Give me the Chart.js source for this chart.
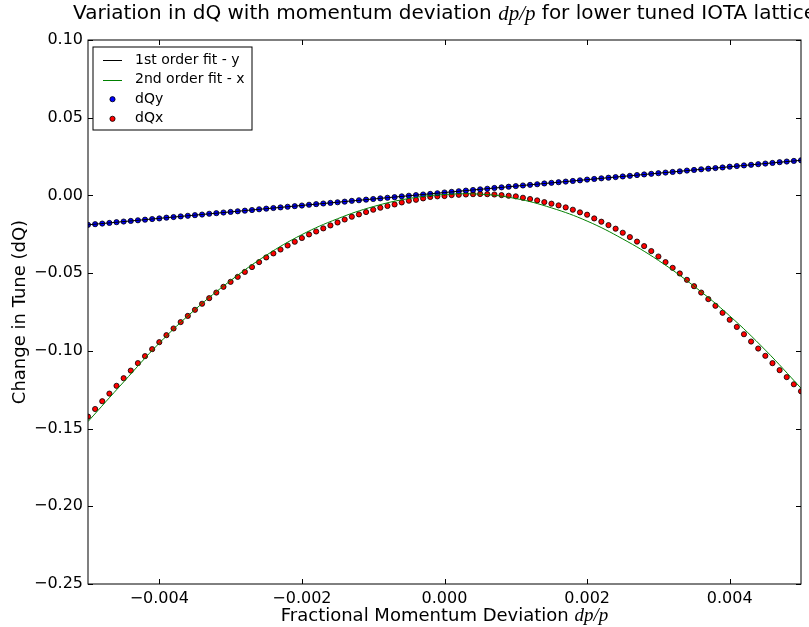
<!DOCTYPE html>
<html>
<head>
<meta charset="utf-8">
<script src="https://cdn.jsdelivr.net/npm/chart.js@4.4.1/dist/chart.umd.min.js"></script>
<style>
  html, body { margin: 0; padding: 0; background: #fff; }
</style>
</head>
<body>
<canvas id="dq" width="809" height="627"></canvas>
<script>
// momentum deviation dp/p of the tracked points
const dpp = [
  -0.0050, -0.0049, -0.0048, -0.0047, -0.0046, -0.0045, -0.0044, -0.0043, -0.0042, -0.0041,
  -0.0040, -0.0039, -0.0038, -0.0037, -0.0036, -0.0035, -0.0034, -0.0033, -0.0032, -0.0031,
  -0.0030, -0.0029, -0.0028, -0.0027, -0.0026, -0.0025, -0.0024, -0.0023, -0.0022, -0.0021,
  -0.0020, -0.0019, -0.0018, -0.0017, -0.0016, -0.0015, -0.0014, -0.0013, -0.0012, -0.0011,
  -0.0010, -0.0009, -0.0008, -0.0007, -0.0006, -0.0005, -0.0004, -0.0003, -0.0002, -0.0001,
   0.0000,  0.0001,  0.0002,  0.0003,  0.0004,  0.0005,  0.0006,  0.0007,  0.0008,  0.0009,
   0.0010,  0.0011,  0.0012,  0.0013,  0.0014,  0.0015,  0.0016,  0.0017,  0.0018,  0.0019,
   0.0020,  0.0021,  0.0022,  0.0023,  0.0024,  0.0025,  0.0026,  0.0027,  0.0028,  0.0029,
   0.0030,  0.0031,  0.0032,  0.0033,  0.0034,  0.0035,  0.0036,  0.0037,  0.0038,  0.0039,
   0.0040,  0.0041,  0.0042,  0.0043,  0.0044,  0.0045,  0.0046,  0.0047,  0.0048,  0.0049,
   0.0050
];

// dQy (blue points)
const dQy = [
  -0.0189, -0.0185, -0.0181, -0.0177, -0.0172, -0.0168, -0.0164, -0.0160, -0.0156, -0.0152,
  -0.0148, -0.0143, -0.0139, -0.0135, -0.0131, -0.0127, -0.0123, -0.0118, -0.0114, -0.0110,
  -0.0106, -0.0102, -0.0098, -0.0094, -0.0089, -0.0085, -0.0081, -0.0077, -0.0073, -0.0069,
  -0.0065, -0.0060, -0.0056, -0.0052, -0.0048, -0.0044, -0.0040, -0.0035, -0.0031, -0.0027,
  -0.0023, -0.0019, -0.0015, -0.0011, -0.0006, -0.0002,  0.0002,  0.0006,  0.0010,  0.0014,
   0.0019,  0.0023,  0.0027,  0.0031,  0.0035,  0.0039,  0.0043,  0.0048,  0.0052,  0.0056,
   0.0060,  0.0064,  0.0068,  0.0072,  0.0077,  0.0081,  0.0085,  0.0089,  0.0093,  0.0097,
   0.0102,  0.0106,  0.0110,  0.0114,  0.0118,  0.0122,  0.0126,  0.0131,  0.0135,  0.0139,
   0.0143,  0.0147,  0.0151,  0.0155,  0.0160,  0.0164,  0.0168,  0.0172,  0.0176,  0.0180,
   0.0185,  0.0189,  0.0193,  0.0197,  0.0201,  0.0205,  0.0209,  0.0214,  0.0218,  0.0222,
   0.0226
];

// dQx (red points)
const dQx = [
  -0.1423, -0.1374, -0.1324, -0.1275, -0.1225, -0.1176, -0.1127, -0.1079, -0.1034, -0.0989,
  -0.0944, -0.0899, -0.0856, -0.0815, -0.0775, -0.0736, -0.0697, -0.0661, -0.0625, -0.0588,
  -0.0556, -0.0524, -0.0492, -0.0461, -0.0429, -0.0399, -0.0373, -0.0348, -0.0322, -0.0298,
  -0.0274, -0.0251, -0.0232, -0.0212, -0.0193, -0.0174, -0.0155, -0.0137, -0.0122, -0.0107,
  -0.0092, -0.0079, -0.0068, -0.0058, -0.0045, -0.0034, -0.0028, -0.0019, -0.0010, -0.0006,
  -0.0004,  0.0002,  0.0004,  0.0006,  0.0008,  0.0009,  0.0008,  0.0006,  0.0002, -0.0002,
  -0.0006, -0.0015, -0.0023, -0.0032, -0.0043, -0.0053, -0.0064, -0.0077, -0.0092, -0.0109,
  -0.0124, -0.0148, -0.0169, -0.0191, -0.0214, -0.0240, -0.0268, -0.0297, -0.0326, -0.0358,
  -0.0393, -0.0429, -0.0466, -0.0502, -0.0543, -0.0584, -0.0625, -0.0667, -0.0710, -0.0755,
  -0.0800, -0.0846, -0.0893, -0.0940, -0.0985, -0.1032, -0.1079, -0.1124, -0.1169, -0.1215,
  -0.1260
];

// 1st order fit to dQy (straight line, end points)
const fitYx = [-0.0050, 0.0050];
const fitYy = [-0.0189, 0.0226];

// 2nd order fit to dQx
const fitXx = [
  -0.0050, -0.0045, -0.0040, -0.0035, -0.0030, -0.0025, -0.0020, -0.0015, -0.0010, -0.0005,
   0.0000,  0.0005,  0.0010,  0.0015,  0.0020,  0.0025,  0.0030,  0.0035,  0.0040,  0.0045,
   0.0050
];
const fitXy = [
  -0.1455, -0.1200, -0.0950, -0.0735, -0.0548, -0.0385, -0.0252, -0.0150, -0.0072, -0.0020,
   0.0006,  0.0008, -0.0020, -0.0080, -0.0165, -0.0280, -0.0418, -0.0584, -0.0775, -0.0995,
  -0.1240
];

// axis ticks
const xTicks = [-0.004, -0.002, 0.000, 0.002, 0.004];
const yTicks = [0.10, 0.05, 0.00, -0.05, -0.10, -0.15, -0.20, -0.25];

const legendNames = ['1st order fit - y', '2nd order fit - x', 'dQy', 'dQx'];

function pts(xs, ys) {
  return xs.map((x, i) => ({ x: x, y: ys[i] }));
}

function fmt(v, d) {
  if (Math.abs(v) < 1e-12) v = 0;
  return v.toFixed(d).replace('-', '\u2212');
}

const SANS = '"DejaVu Sans", sans-serif';
const SERIF = '"Liberation Serif", serif';

// draw a line of text made of plain and italic (math) pieces, centred on cx
function mixedText(ctx, parts, cx, cy, size) {
  const sans = size + 'px ' + SANS;
  const math = 'italic ' + (size + 1) + 'px ' + SERIF;
  let total = 0;
  parts.forEach(p => { ctx.font = p[1] ? math : sans; total += ctx.measureText(p[0]).width; });
  let x = cx - total / 2;
  ctx.textBaseline = 'middle';
  ctx.textAlign = 'left';
  parts.forEach(p => {
    ctx.font = p[1] ? math : sans;
    ctx.fillText(p[0], x, cy);
    x += ctx.measureText(p[0]).width;
  });
}

const decor = {
  id: 'decor',
  afterDraw(chart) {
    const ctx = chart.ctx;
    const a = chart.chartArea;
    const sx = chart.scales.x, sy = chart.scales.y;
    ctx.save();
    ctx.strokeStyle = '#000';
    ctx.lineWidth = 1;

    // frame
    ctx.strokeRect(a.left, a.top, a.right - a.left, a.bottom - a.top);

    // inward ticks on all four sides
    ctx.beginPath();
    xTicks.forEach(v => {
      const p = Math.round(sx.getPixelForValue(v)) + 0.5;
      ctx.moveTo(p, a.bottom); ctx.lineTo(p, a.bottom - 5);
      ctx.moveTo(p, a.top); ctx.lineTo(p, a.top + 5);
    });
    yTicks.forEach(v => {
      const p = Math.round(sy.getPixelForValue(v)) + 0.5;
      ctx.moveTo(a.left, p); ctx.lineTo(a.left + 5, p);
      ctx.moveTo(a.right, p); ctx.lineTo(a.right - 5, p);
    });
    ctx.stroke();

    // legend
    const lx = a.left + 5, ly = a.top + 7, lw = 159, lh = 83;
    ctx.fillStyle = '#fff';
    ctx.fillRect(lx, ly, lw, lh);
    ctx.strokeRect(lx, ly, lw, lh);
    ctx.font = '14px ' + SANS;
    ctx.textBaseline = 'middle';
    ctx.textAlign = 'left';
    chart.data.datasets.forEach((ds, i) => {
      const ry = ly + 13 + i * 19.6;
      if (ds.showLine) {
        ctx.strokeStyle = ds.borderColor;
        ctx.lineWidth = 1;
        ctx.beginPath();
        ctx.moveTo(lx + 10, Math.round(ry) + 0.5);
        ctx.lineTo(lx + 29, Math.round(ry) + 0.5);
        ctx.stroke();
      } else {
        ctx.fillStyle = ds.backgroundColor;
        ctx.strokeStyle = '#000';
        ctx.lineWidth = 0.8;
        ctx.beginPath();
        ctx.arc(lx + 19.5, ry, 2.6, 0, Math.PI * 2);
        ctx.fill();
        ctx.stroke();
      }
      ctx.fillStyle = '#000';
      ctx.fillText(legendNames[i], lx + 42, ry);
    });

    // title and axis labels
    ctx.fillStyle = '#000';
    const cx = (a.left + a.right) / 2;
    mixedText(ctx, [['Variation in dQ with momentum deviation ', false], ['dp/p', true],
      [' for lower tuned IOTA lattice', false]], cx, 14, 20);
    mixedText(ctx, [['Fractional Momentum Deviation ', false], ['dp/p', true]], cx, 616, 18);

    ctx.save();
    ctx.translate(20, (a.top + a.bottom) / 2);
    ctx.rotate(-Math.PI / 2);
    ctx.font = '18px ' + SANS;
    ctx.textAlign = 'center';
    ctx.textBaseline = 'middle';
    ctx.fillText('Change in Tune (dQ)', 0, 0);
    ctx.restore();

    ctx.restore();
  }
};

new Chart(document.getElementById('dq').getContext('2d'), {
  type: 'scatter',
  data: {
    datasets: [
      {
        label: legendNames[0],
        data: pts(fitYx, fitYy),
        showLine: true,
        borderColor: '#000000',
        borderWidth: 1,
        pointRadius: 0,
        clip: 0,
        order: 0
      },
      {
        label: legendNames[1],
        data: pts(fitXx, fitXy),
        showLine: true,
        borderColor: '#008000',
        borderWidth: 1,
        pointRadius: 0,
        tension: 0.4,
        clip: 0,
        order: 1
      },
      {
        label: legendNames[2],
        data: pts(dpp, dQy),
        backgroundColor: '#0000ff',
        borderColor: '#000000',
        borderWidth: 0.8,
        pointRadius: 2.6,
        clip: 0,
        order: 2
      },
      {
        label: legendNames[3],
        data: pts(dpp, dQx),
        backgroundColor: '#ff0000',
        borderColor: '#000000',
        borderWidth: 0.8,
        pointRadius: 2.6,
        clip: 0,
        order: 3
      }
    ]
  },
  options: {
    responsive: false,
    animation: false,
    devicePixelRatio: 1,
    layout: { padding: { top: 40, right: 8, left: 0, bottom: 0 } },
    plugins: {
      legend: { display: false },
      tooltip: { enabled: false },
      title: { display: false }
    },
    scales: {
      x: {
        type: 'linear',
        min: -0.005,
        max: 0.005,
        grid: { display: false, drawTicks: false },
        border: { display: false },
        afterBuildTicks: s => { s.ticks = xTicks.map(v => ({ value: v })); },
        afterFit: s => { s.height = 43; },
        ticks: {
          padding: 5,
          color: '#000',
          font: { family: SANS, size: 16 },
          maxRotation: 0,
          callback: v => fmt(v, 3)
        }
      },
      y: {
        type: 'linear',
        min: -0.25,
        max: 0.10,
        grid: { display: false, drawTicks: false },
        border: { display: false },
        afterBuildTicks: s => { s.ticks = yTicks.map(v => ({ value: v })); },
        afterFit: s => { s.width = 88; },
        ticks: {
          padding: 5,
          color: '#000',
          font: { family: SANS, size: 16 },
          callback: v => fmt(v, 2)
        }
      }
    }
  },
  plugins: [decor]
});
</script>
</body>
</html>
